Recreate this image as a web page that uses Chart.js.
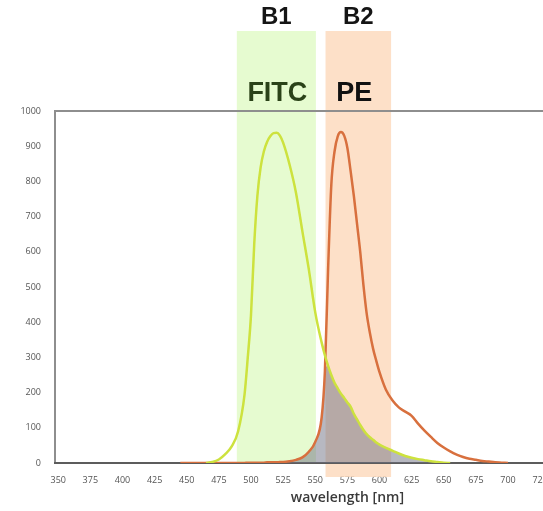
<!DOCTYPE html>
<html><head><meta charset="utf-8">
<script src="https://cdn.jsdelivr.net/npm/chart.js@4"></script>
<style>
html,body{margin:0;padding:0;background:#fff;overflow:hidden;width:543px;height:511px}
#wrap{position:relative;width:592px;height:511px}
</style>
</head><body><div id="wrap"><canvas id="c" width="592" height="511"></canvas></div>
<script>
// ---- data ----
const wavelengths = [445,450,455,460,465,470,475,480,485,490,495,497.5,500,502.5,505,507.5,510,512.5,515,517.5,520,522.5,525,530,535,540,545,550,555,557.5,560,562.5,565,567.5,570,572.5,575,577.5,580,582.5,585,587.5,590,592.5,595,597.5,600,605,610,615,620,625,630,635,640,645,650,655,660,665,670,675,680,685,690,695,700];
const fitcValues = [null,null,null,null,0,3,10,25,47,90,195,300,420,620,760,840,885,912,928,937,938,930,910,848,768,658,550,428,342,306,276,250,228,212,197,185,172,160,140,124,108,94,82,73,66,58,52,43,35,27,20,15,11,8,5,3,1,0,null,null,null,null,null,null,null,null,null];
const peValues = [0,0,0,0,0,0,0,0,0,0,0,1,1,1,1,1,1,2,2,2,2,3,3,5,9,16,32,60,130,260,550,790,885,928,940,930,895,830,760,680,600,505,425,370,325,290,258,208,178,158,146,134,112,92,74,57,44,33,24,17,12,9,6,4,2,1,0];
const xTickValues = [350,375,400,425,450,475,500,525,550,575,600,625,650,675,700,725,750];
const yTickValues = [0,100,200,300,400,500,600,700,800,900,1000];
const bandNames = ['B1','B2'];
const dyeNames = ['FITC','PE'];
const bandStart = [489, 558];
const bandEnd = [550.5, 609];
const axisTitle = 'wavelength [nm]';
const axisTitleAt = 575;

// ---- styles ----
const bandFill = ['rgba(226,250,200,0.85)','rgba(253,218,190,0.85)'];
const bandBottomPx = [463, 477];
const dyeColors = ['#2a4218','#111111'];
const dyeShift = [1, -4];

const pts = vals => wavelengths.map((w,i)=>({x:w,y:vals[i]})).filter(p=>p.y!==null);
const overlap = wavelengths.map((w,i)=>({x:w,y:Math.min(fitcValues[i]??0, peValues[i]??0)}));

const decor = {
  id:'decor',
  beforeDatasetsDraw(chart){
    const {ctx, chartArea:a, scales:{x}} = chart;
    ctx.save();
    bandStart.forEach((s,i)=>{
      const x0 = x.getPixelForValue(s), x1 = x.getPixelForValue(bandEnd[i]);
      ctx.fillStyle = bandFill[i];
      ctx.fillRect(x0, 31, x1-x0, bandBottomPx[i]-31);
    });
    ctx.lineWidth = 2;
    ctx.strokeStyle = '#8e8e8e';
    ctx.beginPath();
    ctx.moveTo(a.left, a.bottom); ctx.lineTo(a.left, a.top); ctx.lineTo(a.right+5, a.top);
    ctx.stroke();
    ctx.strokeStyle = '#5c5c5c';
    ctx.beginPath();
    ctx.moveTo(a.left-1, a.bottom); ctx.lineTo(a.right+5, a.bottom);
    ctx.stroke();
    ctx.restore();
  },
  afterDatasetsDraw(chart){
    const {ctx, chartArea:a, scales:{x}} = chart;
    ctx.save();
    ctx.textAlign = 'center';
    ctx.textBaseline = 'middle';
    bandStart.forEach((s,i)=>{
      const cx = (x.getPixelForValue(s)+x.getPixelForValue(bandEnd[i]))/2;
      ctx.fillStyle = '#151515';
      ctx.font = 'bold 24px "Liberation Sans", Arial, sans-serif';
      ctx.fillText(bandNames[i], cx, 17);
      ctx.fillStyle = dyeColors[i];
      ctx.font = 'bold 27px "Liberation Sans", Arial, sans-serif';
      ctx.fillText(dyeNames[i], cx + dyeShift[i], 94);
    });
    ctx.fillStyle = '#3a3a3a';
    ctx.font = '600 14px "Open Sans", sans-serif';
    ctx.fillText(axisTitle, x.getPixelForValue(axisTitleAt), a.bottom + 35);
    ctx.restore();
  }
};

new Chart(document.getElementById('c'), {
  type:'line',
  data:{datasets:[
    {label:'FITC', data:pts(fitcValues), borderColor:'#cde23e', borderWidth:2.5, pointRadius:0, cubicInterpolationMode:'monotone', fill:false},
    {label:'PE', data:pts(peValues), borderColor:'#d8703e', borderWidth:2.5, pointRadius:0, cubicInterpolationMode:'monotone', fill:false},
    {label:'overlap', data:overlap, borderWidth:0, borderColor:'rgba(0,0,0,0)', backgroundColor:'rgba(112,114,132,0.5)', pointRadius:0, cubicInterpolationMode:'monotone', fill:'origin'}
  ]},
  options:{
    responsive:false, devicePixelRatio:1, animation:false,
    layout:{padding:{top:111,left:0,right:0,bottom:0}},
    plugins:{legend:{display:false}, tooltip:{enabled:false}},
    scales:{
      x:{type:'linear', min:347.5, max:750,
        afterBuildTicks(s){ s.ticks = xTickValues.map(v=>({value:v})); },
        afterFit(s){ s.height = 48; },
        grid:{display:false, drawTicks:false}, border:{display:false},
        ticks:{padding:12, maxRotation:0, autoSkip:false, color:'#555', font:{family:'"Open Sans", sans-serif', size:9}, callback:v=>String(v)}},
      y:{min:0, max:1000,
        afterBuildTicks(s){ s.ticks = yTickValues.map(v=>({value:v})); },
        afterFit(s){ s.width = 55; },
        grid:{display:false, drawTicks:false}, border:{display:false},
        ticks:{padding:14, color:'#555', font:{family:'"Open Sans", sans-serif', size:9}, callback:v=>String(v)}}
    }
  },
  plugins:[decor]
});
</script></body></html>
